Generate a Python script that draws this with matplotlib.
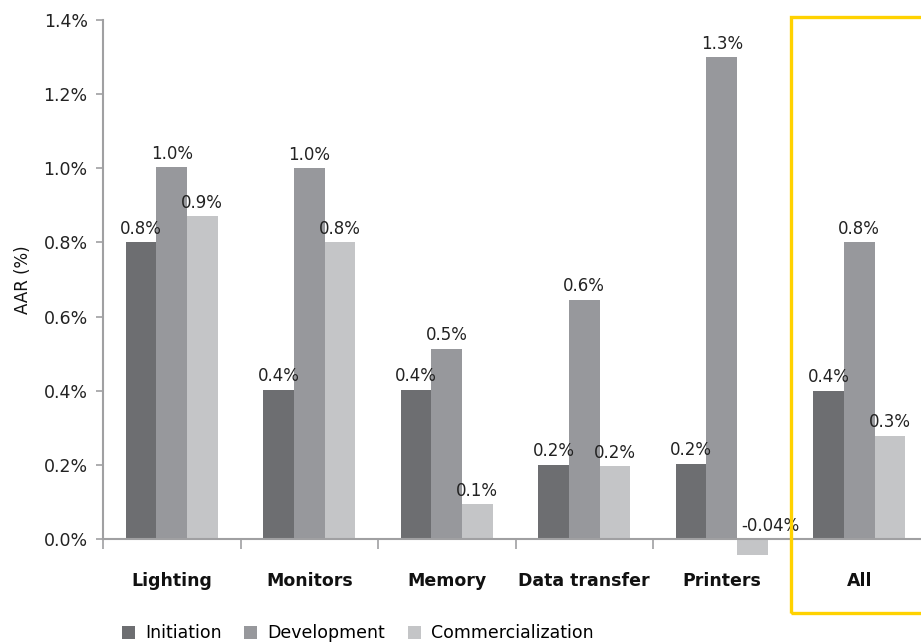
import numpy as np
import matplotlib.pyplot as plt
from matplotlib.patches import Rectangle
from matplotlib import font_manager

categories = ['Lighting', 'Monitors', 'Memory', 'Data transfer', 'Printers', 'All']
initiation = [0.80, 0.403, 0.403, 0.200, 0.203, 0.400]
development = [1.003, 1.000, 0.513, 0.645, 1.300, 0.800]
commercialization = [0.871, 0.800, 0.094, 0.197, -0.043, 0.278]
init_labels = ['0.8%', '0.4%', '0.4%', '0.2%', '0.2%', '0.4%']
dev_labels = ['1.0%', '1.0%', '0.5%', '0.6%', '1.3%', '0.8%']
comm_labels = ['0.9%', '0.8%', '0.1%', '0.2%', '-0.04%', '0.3%']
yticks = [0.0, 0.2, 0.4, 0.6, 0.8, 1.0, 1.2, 1.4]

names = [f.name for f in font_manager.fontManager.ttflist]
cond = 'Liberation Sans Narrow' if 'Liberation Sans Narrow' in names else 'DejaVu Sans'

plt.rcParams['font.family'] = ['DejaVu Sans']

fig = plt.figure(figsize=(9.21, 6.44), dpi=100)
ax = fig.add_axes([103 / 921, 105 / 644, 825 / 921, 519 / 644])

x = np.arange(len(categories))
w = 0.222
cols = ['#6d6e71', '#97989c', '#c4c5c7']
series = [(initiation, init_labels, 'Initiation'),
          (development, dev_labels, 'Development'),
          (commercialization, comm_labels, 'Commercialization')]

for i, (vals, labs, name) in enumerate(series):
    xs = x + (i - 1) * w
    ax.bar(xs, vals, w, color=cols[i], label=name, clip_on=False, zorder=2)
    for xx, v, lab in zip(xs, vals, labs):
        # negative label sits above the axis, nudged right like the original
        dx = 0.13 if v < 0 else 0
        ax.text(xx + dx, max(v, 0) + 0.012, lab, ha='center', va='bottom',
                fontsize=12, color='#222222')

ax.set_xlim(-0.5, len(categories) - 0.5)
ax.set_ylim(0, 1.4)
ax.set_yticks(yticks)
ax.set_yticklabels(['%.1f%%' % t for t in yticks], fontsize=12.5, color='#222222')
ax.set_ylabel('AAR (%)', fontsize=12, color='#111111', labelpad=8, fontweight='medium')

ax.set_xticks(x)
ax.set_xticklabels(categories, fontsize=12.5, fontweight='semibold', family=cond,
                   color='#111111')
ax.tick_params(axis='x', which='major', length=0, pad=24)
ax.set_xticks(np.arange(len(categories) + 1) - 0.5, minor=True)
ax.tick_params(axis='x', which='minor', length=7, color='#a0a0a2', width=1.2)
ax.tick_params(axis='y', length=5, color='#a0a0a2', width=1.2, pad=6)

for s in ['top', 'right']:
    ax.spines[s].set_visible(False)
for s in ['left', 'bottom']:
    ax.spines[s].set_color('#a0a0a2')
    ax.spines[s].set_linewidth(1.5)

box = Rectangle((4.5, -0.2), 1.2, 1.608, fill=False, edgecolor='#ffd200',
                linewidth=2.4, clip_on=False, zorder=3)
ax.add_patch(box)

fig.legend(loc='lower left', bbox_to_anchor=(106 / 921, -14 / 644), ncol=3,
           frameon=False, handlelength=0.75, handleheight=0.75, handletextpad=0.6,
           columnspacing=1.3, prop={'family': cond, 'size': 12.5})

fig.savefig('out.png', dpi=100)
